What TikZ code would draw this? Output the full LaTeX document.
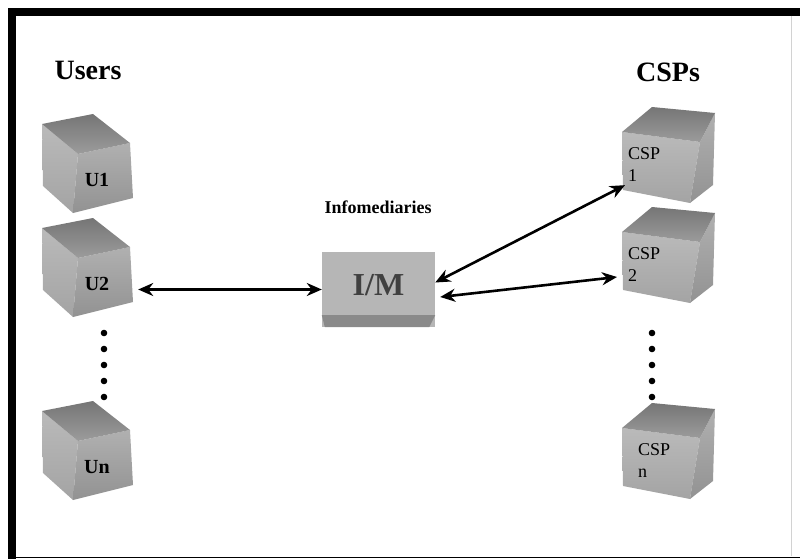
\documentclass[tikz,border=0pt]{standalone}
\usepackage{fontspec}
\setmainfont{Liberation Serif}
\usetikzlibrary{arrows.meta, positioning}
\definecolor{cubetop}   {RGB}{138, 138, 138}
\definecolor{cubeleft}  {RGB}{186, 186, 186}
\definecolor{cuberight} {RGB}{172, 172, 172}
\definecolor{imgray}    {RGB}{182, 182, 182}
\definecolor{imdark}    {RGB}{138, 138, 138}

\begin{document}
\begin{tikzpicture}[x=1pt,y=-1pt,
	link/.style={line width=2.6pt,{Stealth[length=15pt,width=13pt]}-{Stealth[length=15pt,width=13pt]}},
	head/.style={font=\fontsize{28}{30}\selectfont\bfseries,anchor=base},
	ulabel/.style={font=\fontsize{20}{22}\selectfont\bfseries,minimum width=82pt,inner sep=0pt},
	clabel/.style={font=\fontsize{18}{22}\selectfont,align=left,anchor=west,inner sep=3pt},
	topface/.style={top color=cubetop!85!black,bottom color=cubetop!85!white},
	leftface/.style={top color=cubeleft,bottom color=cubeleft!88!black},
	rightface/.style={top color=cuberight!95!white,bottom color=cuberight!85!black}]
	\useasboundingbox (0,0) rectangle (800,559);
	% frame
	\draw[line width=8pt] (12,559) -- (12,12) -- (800,12);
	\draw[line width=1.6pt] (16,557.5) -- (800,557.5);
	\draw[gray!35,line width=0.8pt] (791,16) -- (791,556);
	% headings
	\node[head] (users) at (88,80) {Users};
	\node[head] (csps) at (668,82) {CSPs};
	\node[head,font=\fontsize{18}{20}\selectfont\bfseries] (infom) at (378,213) {Infomediaries};
	% infomediary box
	\node[fill=imgray,minimum width=113pt,minimum height=75pt,inner sep=0pt,
		font=\fontsize{32}{34}\selectfont\bfseries,text=black!75,text depth=8.6pt] (im) at (378.5,289.5) {I/M};
	\fill[imdark] ([yshift=12pt]im.south west) -- ([yshift=12pt]im.south east)
		-- ([xshift=-6pt]im.south east) -- ([xshift=3pt]im.south west) -- cycle;
	% user cubes
	\foreach \name/\dy/\txt in {u1/-104/U1, u2/0/U2, un/183/Un}{
		\begin{scope}[shift={(93,218+\dy)}]
			\shade[leftface] (-51,10) -- (-15,40) -- (-20,99) -- (-50,72) -- cycle;
			\shade[rightface] (-15,40) -- (37,29) -- (40,84) -- (-20,99) -- cycle;
			\shade[topface] (-51,10) -- (0,0) -- (37,29) -- (-15,40) -- cycle;
			\node[ulabel] (\name) at (4,66) {\txt};
		\end{scope}
	}
	% provider cubes
	\foreach \name/\dy/\dx/\txt in {csp1/0/0/1, csp2/100/0/2, cspn/296/10/n}{
		\begin{scope}[shift={(652,107+\dy)}]
			\shade[leftface] (-30,25) -- (48,35) -- (38,96) -- (-29,83) -- cycle;
			\shade[rightface] (48,35) -- (63,6) -- (61,78) -- (38,96) -- cycle;
			\shade[topface] (-30,25) -- (0,0) -- (63,6) -- (48,35) -- cycle;
			\node[clabel] (\name) at (-27+\dx,58) {CSP\\\txt};
		\end{scope}
	}
	% dots between the cubes
	\foreach \k in {0,...,4}{
		\fill (104,333+16*\k) circle (3.3pt);
		\fill (652,333+16*\k) circle (3.3pt);
	}
	% links
	\draw[link] (u2.east |- im.west) -- (im.west);
	\draw[link] ([yshift=7pt]im.east) -- (csp1.south west);
	\draw[link] ([xshift=5pt,yshift=-7.5pt]im.east) -- ([xshift=-8pt,yshift=-12pt]csp2.west);
\end{tikzpicture}
\end{document}
